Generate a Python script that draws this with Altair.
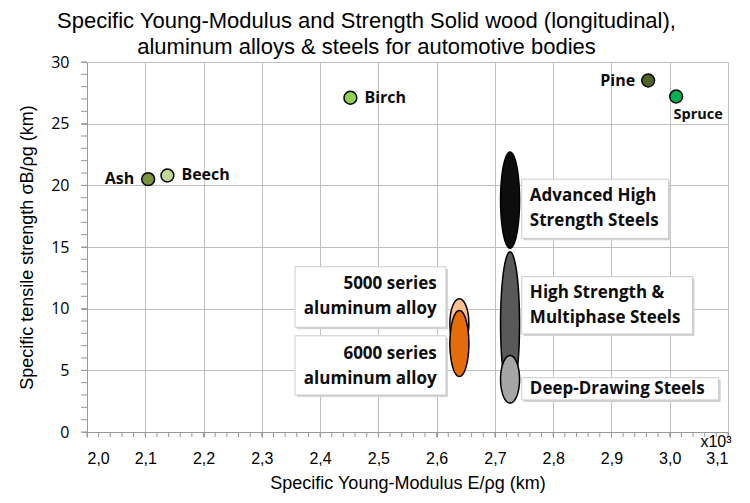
import altair as alt
import numpy as np
import pandas as pd

# ---------------- data ----------------
woods = ["Ash", "Beech", "Birch", "Pine", "Spruce"]
wood_E = [2.105, 2.138, 2.452, 2.963, 3.011]      # x10^3 km
wood_S = [20.5, 20.8, 27.1, 28.5, 27.2]           # km
wood_colors = ["#77933C", "#C3D69B", "#92D050", "#4F6228", "#00B050"]

materials = ["Advanced High Strength Steels", "High Strength & Multiphase Steels",
             "Deep-Drawing Steels", "5000 series aluminum alloy", "6000 series aluminum alloy"]
mat_E = [2.726, 2.726, 2.726, 2.639, 2.639]
mat_S_low = [14.9, 3.0, 2.35, 6.8, 4.5]
mat_S_high = [22.7, 14.6, 6.2, 10.8, 9.85]
mat_colors = ["#0D0D0D", "#595959", "#A6A6A6", "#FAC090", "#E46C0A"]

box_lines = [["Advanced High", "Strength Steels"],
             ["High Strength &", "Multiphase Steels"],
             ["Deep-Drawing Steels"],
             ["5000 series", "aluminum alloy"],
             ["6000 series", "aluminum alloy"]]

x_ticks = [2.0, 2.1, 2.2, 2.3, 2.4, 2.5, 2.6, 2.7, 2.8, 2.9, 3.0, 3.1]
y_ticks = [0, 5, 10, 15, 20, 25, 30]

# ---------------- layout / style ----------------
W, H = 641, 370
ELLIPSE_HALF_WIDTH = 0.0163
FONT_BOLD = "Open Sans"
GRID = "#BFBFBF"
AXISC = "#999999"
BOX_LH = 25

# annotation box placement (data units): x1, x2, y1, y2, text_x, align, text_y
box_place = [
    (2.746, 2.998, 15.7, 20.5, 2.760, "left", 18.1),
    (2.746, 3.039, 7.95, 12.6, 2.760, "left", 10.25),
    (2.746, 3.084, 2.6, 4.4, 2.760, "left", 3.5),
    (2.357, 2.616, 8.5, 13.4, 2.600, "right", 10.95),
    (2.357, 2.616, 3.0, 7.8, 2.600, "right", 5.35),
]
# point label offsets: dx, dy, align, fontSize
label_style = {
    "Ash": (-14, 0, "right", 16),
    "Beech": (14, 0, "left", 16),
    "Birch": (14, 0, "left", 16),
    "Pine": (-13, 0, "right", 16),
    "Spruce": (22, 18, "center", 14.5),
}

xscale = alt.Scale(domain=[2.0, 3.1], nice=False, zero=False)
yscale = alt.Scale(domain=[0, 30], nice=False, zero=False)

x_axis = alt.Axis(values=x_ticks, grid=True, gridColor=GRID, gridWidth=1,
                  labelExpr="replace(format(datum.value, '.1f'), '.', ',')",
                  labelFont="Liberation Sans Narrow, Liberation Sans", labelFontSize=16,
                  labelColor="#000000", labelPadding=13, tickSize=5, tickColor=AXISC,
                  domainColor=AXISC, title="Specific Young-Modulus E/ρg (km)",
                  titleFont="Liberation Sans", titleFontSize=18, titleFontWeight="normal",
                  titleColor="#000000", titlePadding=8, labelOverlap=False)
y_axis = alt.Axis(values=y_ticks, grid=True, gridColor=GRID, gridWidth=1,
                  labelFont="Open Sans", labelFontSize=16, labelColor="#000000",
                  labelPadding=12, tickSize=6, tickColor=AXISC, domainColor=AXISC,
                  title="Specific tensile strength σB/ρg (km)",
                  titleFont="Liberation Sans", titleFontSize=18, titleFontWeight="normal",
                  titleColor="#000000", titlePadding=14)

X = alt.X("E:Q", scale=xscale, axis=x_axis)
Y = alt.Y("S:Q", scale=yscale, axis=y_axis)

layers = []

# minor ticks
x_minor = pd.DataFrame({"E": np.round(np.arange(2.0, 3.1001, 0.02), 2), "S": 0.0})
layers.append(alt.Chart(x_minor).mark_rule(color=AXISC, strokeWidth=1).encode(
    x=X, y=alt.value(H), y2=alt.value(H + 5)))
y_minor = pd.DataFrame({"E": 2.0, "S": np.arange(0, 31, 1.0)})
layers.append(alt.Chart(y_minor).mark_rule(color=AXISC, strokeWidth=1).encode(
    y=Y, x=alt.value(0), x2=alt.value(-6)))

# ellipses
theta = np.linspace(-np.pi / 2, np.pi / 2, 81)
for i in range(len(materials)):
    yc = (mat_S_low[i] + mat_S_high[i]) / 2
    ry = (mat_S_high[i] - mat_S_low[i]) / 2
    half = ELLIPSE_HALF_WIDTH * np.cos(theta)
    df = pd.DataFrame({"S": yc + ry * np.sin(theta),
                       "E": mat_E[i] - half, "E2": mat_E[i] + half})
    layers.append(alt.Chart(df).mark_area(orient="horizontal", color=mat_colors[i],
                                          stroke="black", strokeWidth=1.5, opacity=1,
                                          interpolate="linear").encode(
        y=Y, x=X, x2="E2:Q"))

# annotation boxes
bdf = pd.DataFrame({
    "E": [b[0] for b in box_place], "E2": [b[1] for b in box_place],
    "S": [b[2] for b in box_place], "S2": [b[3] for b in box_place],
})
layers.append(alt.Chart(bdf).mark_rect(color="#D3D3D3", xOffset=2, yOffset=2,
                                       x2Offset=2, y2Offset=2).encode(
    x=X, x2="E2:Q", y=Y, y2="S2:Q"))
layers.append(alt.Chart(bdf).mark_rect(fill="white", stroke="#CCCCCC", strokeWidth=1).encode(
    x=X, x2="E2:Q", y=Y, y2="S2:Q"))
for i, lines in enumerate(box_lines):
    b = box_place[i]
    tdf = pd.DataFrame({"E": [b[4]], "S": [b[6]], "t": [lines]})
    layers.append(alt.Chart(tdf).mark_text(align=b[5], baseline="middle", lineHeight=BOX_LH,
                                           dy=-BOX_LH * (len(lines) - 1) / 2,
                                           font=FONT_BOLD, fontSize=17, fontWeight="bold",
                                           color="#0D0D0D").encode(
        x=X, y=Y, text="t"))

# wood points
wdf = pd.DataFrame({"name": woods, "E": wood_E, "S": wood_S})
layers.append(alt.Chart(wdf).mark_circle(size=165, stroke="black", strokeWidth=1.5,
                                         opacity=1).encode(
    x=X, y=Y,
    color=alt.Color("name:N", scale=alt.Scale(domain=woods, range=wood_colors), legend=None)))
for i, n in enumerate(woods):
    dx, dy, al, fs = label_style[n]
    ldf = pd.DataFrame({"name": [n], "E": [wood_E[i]], "S": [wood_S[i]]})
    layers.append(alt.Chart(ldf).mark_text(align=al, baseline="middle", dx=dx, dy=dy,
                                           font=FONT_BOLD, fontSize=fs, fontWeight="bold",
                                           color="#0D0D0D").encode(
        x=X, y=Y, text="name:N"))

# x10^3 multiplier
layers.append(alt.Chart(pd.DataFrame({"t": ["x10³"]})).mark_text(
    align="center", baseline="middle", font="Liberation Sans", fontSize=16,
    color="#000000").encode(x=alt.value(629), y=alt.value(380), text="t:N"))

chart = alt.layer(*layers).properties(
    width=W, height=H,
    title=alt.TitleParams(
        ["Specific Young-Modulus and Strength Solid wood (longitudinal),",
         "aluminum alloys & steels for automotive bodies"],
        font="Liberation Sans", fontSize=22, fontWeight="normal", color="#000000",
        anchor="middle", dx=-41, lineHeight=26, offset=-5),
    autosize=alt.AutoSizeParams(type="none"),
    padding={"left": 79, "top": 54, "right": 14, "bottom": 63},
).configure_view(strokeWidth=0).configure(background="white")

chart.save("out.html", embed_options={"renderer": "svg", "actions": False})
